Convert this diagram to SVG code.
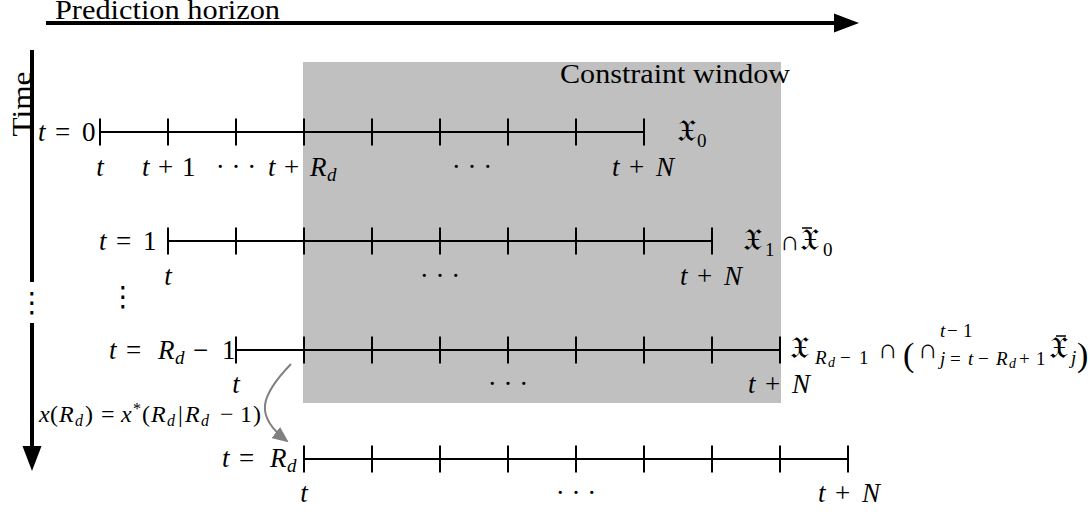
<svg xmlns="http://www.w3.org/2000/svg" width="1090" height="512" viewBox="0 0 1090 512">
<defs>
<style>
text { font-family: "Liberation Serif", "DejaVu Serif", serif; font-size: 27px; fill: #000; }
.it { font-style: italic; }
.fr { font-family: "DejaVu Serif", "DejaVu Sans", "Noto Sans", serif; font-style: normal; font-size: 31px; }
.sub { font-size: 19px; }
.ss { font-size: 14px; }
.sm { font-size: 24px; }
.sms { font-size: 16px; }
.tl { stroke: #000; stroke-width: 2; fill: none; }
.ax { stroke: #000; stroke-width: 4; fill: none; }
.bar { stroke: #000; stroke-width: 1.5; }
.dots { font-family: "DejaVu Sans", sans-serif; font-size: 28px; }
</style>
<marker id="gh" markerUnits="userSpaceOnUse" markerWidth="16" markerHeight="14" refX="14" refY="7" orient="auto">
<path d="M0,0 L16,7 L0,14 Z" fill="#808080"/>
</marker>
</defs>

<rect id="window" x="303" y="62" width="478" height="341" fill="#c0c0c0"/>
<text x="560" y="83" textLength="230" lengthAdjust="spacingAndGlyphs">Constraint window</text>

<g id="axes">
<line class="ax" x1="46" y1="23" x2="836" y2="23"/>
<polygon points="834,13.5 859,23 834,32.5" fill="#000"/>
<text x="55" y="19" textLength="225" lengthAdjust="spacingAndGlyphs">Prediction horizon</text>
<line class="ax" x1="32" y1="50" x2="32" y2="282"/>
<line class="ax" x1="32" y1="323" x2="32" y2="448"/>
<polygon points="22.5,446 32,471 41.5,446" fill="#000"/>
<text transform="translate(31,104) rotate(-90)" text-anchor="middle" textLength="65" lengthAdjust="spacingAndGlyphs">Time</text>
<text class="dots" x="32" y="312" text-anchor="middle">⋮</text>
</g>

<g id="row0">
<path class="tl" d="M100,132 H644 M100,118.5 V145.5 M168,118.5 V145.5 M236,118.5 V145.5 M304,118.5 V145.5 M372,118.5 V145.5 M440,118.5 V145.5 M508,118.5 V145.5 M576,118.5 V145.5 M644,118.5 V145.5"/>
<text y="141"><tspan class="it" x="38">t</tspan><tspan x="55">=</tspan><tspan x="82">0</tspan></text>
<text x="100" y="176" text-anchor="middle" class="it">t</text>
<text y="176"><tspan class="it" x="142">t</tspan><tspan x="158">+</tspan><tspan x="182">1</tspan></text>
<text x="236" y="176" text-anchor="middle">· · ·</text>
<text y="176"><tspan class="it" x="268">t</tspan><tspan x="284">+</tspan><tspan class="it" x="310">R</tspan><tspan class="sub it" x="327" y="181">d</tspan></text>
<text x="472" y="176" text-anchor="middle">· · ·</text>
<text y="176"><tspan class="it" x="612">t</tspan><tspan x="629">+</tspan><tspan class="it" x="656">N</tspan></text>
<text y="141"><tspan class="fr" x="677">𝔛</tspan><tspan class="sub" x="697" y="147">0</tspan></text>
</g>

<g id="row1">
<path class="tl" d="M168,241 H712 M168,227.5 V254.5 M236,227.5 V254.5 M304,227.5 V254.5 M372,227.5 V254.5 M440,227.5 V254.5 M508,227.5 V254.5 M576,227.5 V254.5 M644,227.5 V254.5 M712,227.5 V254.5"/>
<text y="250"><tspan class="it" x="99">t</tspan><tspan x="116">=</tspan><tspan x="143">1</tspan></text>
<text x="168" y="285" text-anchor="middle" class="it">t</text>
<text x="440" y="285" text-anchor="middle">· · ·</text>
<text y="285"><tspan class="it" x="680">t</tspan><tspan x="697">+</tspan><tspan class="it" x="724">N</tspan></text>
<text y="250"><tspan class="fr" x="743">𝔛</tspan><tspan class="sub" x="765" y="256">1</tspan><tspan x="780" y="250">∩</tspan><tspan class="fr" x="800">𝔛</tspan><tspan class="sub" x="823" y="256">0</tspan></text>
<line class="bar" x1="802" y1="228" x2="812" y2="228"/>
</g>

<text class="dots" x="123" y="306" text-anchor="middle">⋮</text>

<g id="row2">
<path class="tl" d="M236,350 H780 M236,336.5 V363.5 M304,336.5 V363.5 M372,336.5 V363.5 M440,336.5 V363.5 M508,336.5 V363.5 M576,336.5 V363.5 M644,336.5 V363.5 M712,336.5 V363.5 M780,336.5 V363.5"/>
<text y="359"><tspan class="it" x="109">t</tspan><tspan x="126">=</tspan><tspan class="it" x="158">R</tspan><tspan class="sub it" x="175" y="364">d</tspan><tspan x="193" y="359">−</tspan><tspan x="222">1</tspan></text>
<text x="236" y="393" text-anchor="middle" class="it">t</text>
<text x="508" y="393" text-anchor="middle">· · ·</text>
<text y="393"><tspan class="it" x="748">t</tspan><tspan x="765">+</tspan><tspan class="it" x="792">N</tspan></text>
<text y="358"><tspan class="fr" x="790">𝔛</tspan><tspan class="sub it" x="815" y="364">R</tspan><tspan class="ss it" x="828" y="367">d</tspan><tspan class="sub" x="840" y="364">−</tspan><tspan class="sub" x="859" y="364">1</tspan><tspan x="878" y="358">∩</tspan><tspan style="font-size:34px" x="903" y="366">(</tspan><tspan x="918" y="358">∩</tspan><tspan class="sub it" x="940" y="337">t</tspan><tspan class="sub" x="947" y="337">−</tspan><tspan class="sub" x="963" y="337">1</tspan><tspan class="sub it" x="940" y="365">j</tspan><tspan class="sub" x="950" y="365">=</tspan><tspan class="sub it" x="968" y="365">t</tspan><tspan class="sub" x="978" y="365">−</tspan><tspan class="sub it" x="996" y="365">R</tspan><tspan class="ss it" x="1009" y="368">d</tspan><tspan class="sub" x="1019" y="365">+</tspan><tspan class="sub" x="1036" y="365">1</tspan><tspan class="fr" x="1049" y="358">𝔛</tspan><tspan class="sub it" x="1071" y="364">j</tspan><tspan style="font-size:34px" x="1077" y="366">)</tspan></text>
<line class="bar" x1="1056" y1="336" x2="1066" y2="336"/>
</g>

<g id="row3">
<path class="tl" d="M304,459 H848 M304,445.5 V472.5 M372,445.5 V472.5 M440,445.5 V472.5 M508,445.5 V472.5 M576,445.5 V472.5 M644,445.5 V472.5 M712,445.5 V472.5 M780,445.5 V472.5 M848,445.5 V472.5"/>
<text y="467"><tspan class="it" x="222">t</tspan><tspan x="239">=</tspan><tspan class="it" x="270">R</tspan><tspan class="sub it" x="287" y="472">d</tspan></text>
<text x="304" y="502" text-anchor="middle" class="it">t</text>
<text x="576" y="502" text-anchor="middle">· · ·</text>
<text y="502"><tspan class="it" x="818">t</tspan><tspan x="835">+</tspan><tspan class="it" x="862">N</tspan></text>
</g>

<g id="connectors">
<path d="M291,364 C260,396 254,416 287,441" fill="none" stroke="#808080" stroke-width="2" marker-end="url(#gh)"/>
<text class="sm" y="422"><tspan class="it" x="39">x</tspan><tspan x="50">(</tspan><tspan class="it" x="59">R</tspan><tspan class="sms it" x="75" y="426">d</tspan><tspan x="85" y="422">)</tspan><tspan x="101">=</tspan><tspan class="it" x="121">x</tspan><tspan class="sms" x="133" y="414">*</tspan><tspan x="142" y="422">(</tspan><tspan class="it" x="151">R</tspan><tspan class="sms it" x="167" y="426">d</tspan><tspan x="178" y="422">|</tspan><tspan class="it" x="185">R</tspan><tspan class="sms it" x="201" y="426">d</tspan><tspan x="220" y="422">−</tspan><tspan x="240">1</tspan><tspan x="253">)</tspan></text>
</g>
</svg>
